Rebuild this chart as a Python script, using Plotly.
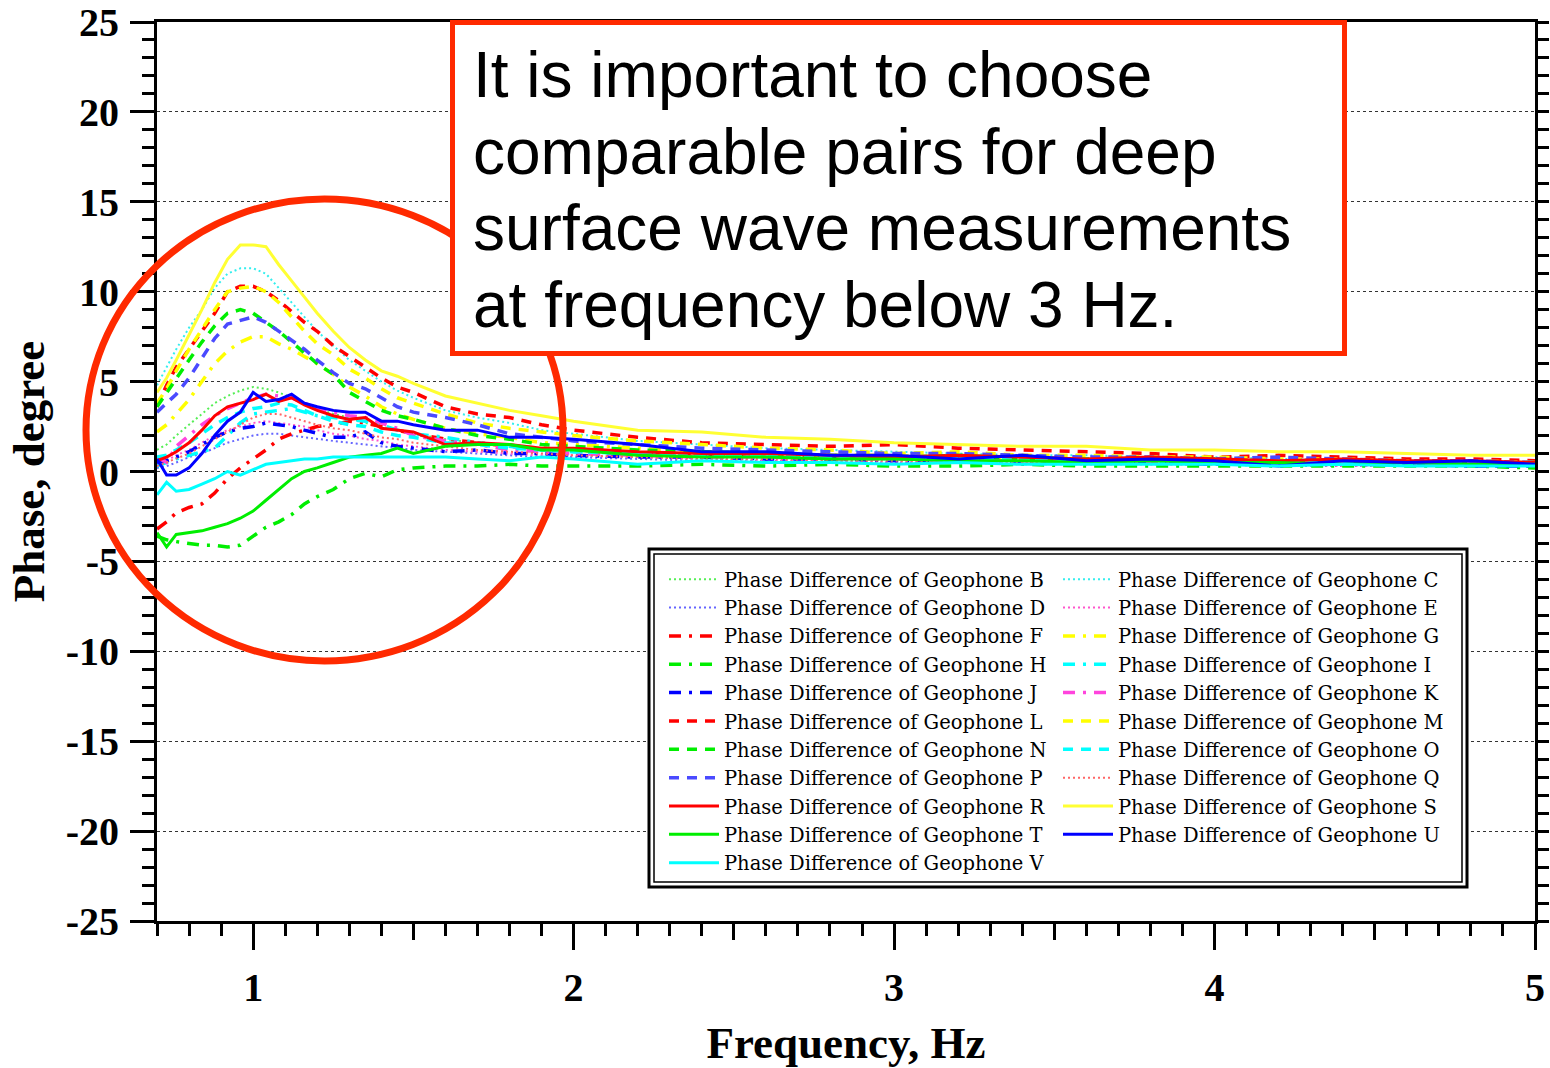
import plotly.graph_objects as go

freq = [0.70, 0.73, 0.76, 0.80, 0.84, 0.88, 0.92, 0.96, 1.00, 1.04, 1.08, 1.12, 1.16, 1.20, 1.25, 1.30, 1.35, 1.40, 1.45, 1.50,
        1.60, 1.70, 1.80, 1.90, 2.00, 2.20, 2.40, 2.60, 2.80, 3.00, 3.20, 3.40, 3.60, 3.80, 4.00, 4.20, 4.40, 4.60, 4.80, 5.00]

phase_B = [1.2, 1.5, 2.0, 2.6, 3.2, 3.8, 4.2, 4.5, 4.7, 4.6, 4.4, 4.1, 3.8, 3.5, 3.2, 3.0, 2.7, 2.5, 2.3, 2.1,
           1.8, 1.6, 1.4, 1.3, 1.2, 1.0, 0.9, 0.8, 0.8, 0.7, 0.7, 0.6, 0.6, 0.6, 0.5, 0.5, 0.5, 0.5, 0.4, 0.4]
phase_C = [4.8, 5.8, 6.8, 8.0, 9.0, 10.2, 11.0, 11.3, 11.3, 11.0, 10.2, 9.4, 8.6, 7.8, 7.0, 6.2, 5.6, 5.0, 4.5, 4.1,
           3.4, 3.0, 2.7, 2.3, 2.1, 1.7, 1.5, 1.3, 1.2, 1.1, 1.0, 0.9, 0.9, 0.8, 0.8, 0.7, 0.7, 0.6, 0.6, 0.5]
phase_D = [0.2, 0.3, 0.5, 0.8, 1.0, 1.3, 1.6, 1.8, 2.0, 2.1, 2.1, 2.0, 1.9, 1.8, 1.7, 1.6, 1.5, 1.4, 1.3, 1.2,
           1.1, 1.0, 0.9, 0.8, 0.8, 0.7, 0.6, 0.6, 0.5, 0.5, 0.5, 0.4, 0.4, 0.4, 0.4, 0.3, 0.3, 0.3, 0.3, 0.3]
phase_E = [0.5, 0.6, 0.9, 1.2, 1.6, 2.0, 2.3, 2.5, 2.7, 2.8, 2.7, 2.6, 2.5, 2.3, 2.1, 2.0, 1.8, 1.7, 1.5, 1.4,
           1.2, 1.1, 1.0, 0.9, 0.9, 0.8, 0.7, 0.6, 0.6, 0.5, 0.5, 0.5, 0.4, 0.4, 0.4, 0.4, 0.3, 0.3, 0.3, 0.3]
phase_F = [-3.2, -2.8, -2.3, -2.0, -1.8, -1.2, -0.4, 0.2, 0.7, 1.2, 1.8, 2.1, 2.3, 2.5, 2.6, 2.8, 2.7, 2.5, 2.3, 2.1,
           1.8, 1.6, 1.4, 1.3, 1.2, 1.0, 0.9, 0.9, 0.8, 0.8, 0.7, 0.7, 0.6, 0.6, 0.6, 0.5, 0.5, 0.5, 0.4, 0.4]
phase_G = [2.2, 2.6, 3.2, 4.0, 5.0, 6.0, 6.7, 7.2, 7.5, 7.5, 7.1, 6.8, 6.4, 6.0, 5.4, 4.7, 4.2, 3.6, 3.2, 2.9,
           2.4, 2.1, 1.9, 1.6, 1.5, 1.3, 1.1, 1.0, 0.9, 0.9, 0.8, 0.8, 0.7, 0.7, 0.6, 0.6, 0.6, 0.5, 0.5, 0.5]
phase_H = [-3.6, -3.8, -3.9, -4.0, -4.1, -4.1, -4.2, -4.1, -3.6, -3.1, -2.8, -2.4, -1.8, -1.4, -1.0, -0.4, -0.1, -0.3, 0.1, 0.2,
           0.3, 0.3, 0.4, 0.3, 0.3, 0.3, 0.4, 0.3, 0.4, 0.3, 0.3, 0.4, 0.3, 0.3, 0.3, 0.3, 0.3, 0.3, 0.3, 0.2]
phase_I = [0.3, 0.5, 0.7, 0.9, 1.1, 1.3, 2.0, 2.7, 3.2, 3.3, 3.4, 3.5, 3.3, 3.1, 3.0, 2.9, 2.8, 2.6, 2.3, 2.1,
           1.9, 1.6, 1.4, 1.2, 1.1, 1.0, 0.9, 0.8, 0.8, 0.7, 0.7, 0.6, 0.6, 0.5, 0.5, 0.5, 0.5, 0.4, 0.4, 0.4]
phase_J = [0.5, 0.6, 0.8, 1.1, 1.5, 1.9, 2.2, 2.4, 2.5, 2.7, 2.6, 2.5, 2.3, 2.1, 1.9, 1.9, 2.2, 1.6, 1.4, 1.3,
           1.1, 1.2, 1.0, 1.0, 0.9, 0.8, 0.8, 0.7, 0.7, 0.6, 0.6, 0.5, 0.5, 0.5, 0.4, 0.4, 0.4, 0.4, 0.3, 0.3]
phase_K = [0.8, 0.5, 1.4, 2.0, 2.6, 3.1, 3.5, 3.8, 4.1, 4.3, 4.2, 4.1, 3.8, 3.5, 3.3, 3.1, 3.0, 2.7, 2.4, 2.0,
           1.7, 1.5, 1.2, 1.1, 1.0, 0.9, 0.8, 0.8, 0.7, 0.7, 0.6, 0.6, 0.6, 0.5, 0.5, 0.5, 0.5, 0.5, 0.4, 0.4]
phase_L = [3.6, 4.8, 5.8, 6.8, 7.8, 8.8, 10.0, 10.3, 10.3, 10.0, 9.5, 8.9, 8.3, 7.8, 7.0, 6.4, 5.8, 5.2, 4.7, 4.4,
           3.6, 3.2, 3.0, 2.6, 2.3, 1.9, 1.6, 1.5, 1.4, 1.5, 1.3, 1.2, 1.1, 1.0, 0.8, 0.9, 0.8, 0.7, 0.7, 0.6]
phase_M = [3.8, 4.6, 5.6, 6.8, 7.9, 9.0, 10.0, 10.2, 10.3, 10.0, 9.4, 8.6, 7.8, 7.1, 6.5, 5.7, 5.2, 4.6, 4.1, 3.8,
           3.2, 2.7, 2.4, 2.2, 2.0, 1.7, 1.5, 1.3, 1.2, 1.0, 1.1, 0.9, 0.9, 0.8, 0.8, 0.7, 0.7, 0.6, 0.6, 0.5]
phase_N = [3.6, 4.4, 5.2, 6.2, 7.2, 8.1, 8.8, 9.0, 8.8, 8.3, 7.8, 7.2, 6.6, 6.0, 5.4, 4.4, 3.9, 3.4, 3.1, 2.9,
           2.4, 2.0, 1.8, 1.5, 1.4, 1.2, 1.1, 1.0, 0.9, 0.8, 0.9, 0.7, 0.7, 0.6, 0.7, 0.5, 0.6, 0.5, 0.5, 0.4]
phase_O = [0.8, 0.9, 1.2, 1.6, 2.1, 2.6, 3.0, 3.3, 3.5, 3.6, 3.8, 3.7, 3.4, 3.1, 2.8, 2.6, 2.5, 2.2, 2.0, 1.9,
           1.6, 1.5, 1.3, 1.2, 1.1, 1.0, 0.9, 0.9, 0.8, 0.8, 0.7, 0.7, 0.6, 0.7, 0.6, 0.6, 0.5, 0.5, 0.5, 0.5]
phase_P = [3.3, 3.8, 4.3, 5.2, 6.3, 7.4, 8.2, 8.4, 8.6, 8.3, 7.8, 7.3, 6.8, 6.2, 5.5, 4.9, 4.6, 4.1, 3.6, 3.3,
           3.0, 2.6, 2.1, 1.9, 1.7, 1.5, 1.3, 1.2, 1.1, 1.0, 1.0, 0.9, 0.8, 0.8, 0.7, 0.8, 0.7, 0.6, 0.6, 0.5]
phase_Q = [0.3, 0.5, 0.7, 1.0, 1.4, 1.8, 2.2, 2.6, 3.0, 3.2, 3.2, 3.0, 2.8, 2.6, 2.4, 2.3, 2.1, 1.9, 1.8, 1.6,
           1.4, 1.2, 1.1, 1.0, 0.9, 0.8, 0.7, 0.7, 0.6, 0.6, 0.5, 0.5, 0.5, 0.4, 0.4, 0.4, 0.4, 0.3, 0.3, 0.3]
phase_R = [0.6, 0.8, 1.1, 1.6, 2.3, 3.1, 3.6, 3.8, 4.0, 4.3, 3.9, 4.1, 3.7, 3.4, 3.1, 2.9, 3.0, 2.4, 2.3, 2.2,
           1.5, 1.6, 1.5, 1.3, 1.3, 1.1, 1.0, 1.0, 0.9, 0.8, 0.9, 0.8, 0.7, 0.8, 0.7, 0.6, 0.7, 0.6, 0.6, 0.5]
phase_S = [4.4, 5.2, 6.2, 7.6, 9.0, 10.5, 11.8, 12.6, 12.6, 12.5, 11.5, 10.6, 9.7, 8.8, 7.8, 6.9, 6.2, 5.6, 5.3, 4.9,
           4.2, 3.8, 3.4, 3.1, 2.8, 2.3, 2.2, 1.9, 1.8, 1.6, 1.5, 1.4, 1.4, 1.2, 1.2, 1.1, 1.1, 1.0, 0.9, 0.9]
phase_T = [-3.4, -4.2, -3.5, -3.4, -3.3, -3.1, -2.9, -2.6, -2.2, -1.6, -1.0, -0.4, 0.0, 0.2, 0.5, 0.8, 0.9, 1.0, 1.3, 1.0,
           1.4, 1.5, 1.5, 1.2, 1.2, 0.9, 0.8, 0.8, 0.7, 0.7, 0.6, 0.6, 0.5, 0.6, 0.5, 0.5, 0.4, 0.5, 0.4, 0.4]
phase_U = [0.7, -0.2, -0.2, 0.2, 1.0, 2.0, 2.8, 3.3, 4.4, 3.9, 4.0, 4.3, 3.8, 3.6, 3.4, 3.3, 3.3, 2.8, 2.8, 2.6,
           2.3, 2.3, 1.9, 1.9, 1.8, 1.5, 1.1, 1.1, 0.9, 0.9, 0.7, 0.9, 0.6, 0.7, 0.6, 0.3, 0.6, 0.5, 0.6, 0.4]
phase_V = [-1.3, -0.6, -1.1, -1.0, -0.7, -0.4, 0.0, -0.2, 0.1, 0.4, 0.5, 0.6, 0.7, 0.7, 0.8, 0.8, 0.8, 0.8, 0.8, 0.8,
           0.8, 0.7, 0.6, 0.8, 0.7, 0.4, 0.6, 0.5, 0.5, 0.4, 0.5, 0.4, 0.4, 0.4, 0.4, 0.3, 0.4, 0.3, 0.3, 0.3]

x_major_ticks = [1, 2, 3, 4, 5]
x_mid_ticks = [1.5, 2.5, 3.5, 4.5]
y_major_ticks = [-25, -20, -15, -10, -5, 0, 5, 10, 15, 20, 25]
y_tick_labels = ["-25", "-20", "-15", "-10", "-5", "0", "5", "10", "15", "20", "25"]

note_lines = ["It is important to choose", "comparable pairs for deep",
              "surface wave measurements", "at frequency below 3 Hz."]

DOT = "2px,3px"
DASH = "10px,8px"
DASHDOT = "12px,8px,3px,8px"

series = [
    ("B", phase_B, "#55ee55", DOT, 2, "legend"),
    ("C", phase_C, "#33eeee", DOT, 2, "legend2"),
    ("D", phase_D, "#6666ff", DOT, 2, "legend"),
    ("E", phase_E, "#ff55cc", DOT, 2, "legend2"),
    ("F", phase_F, "#ff0000", DASHDOT, 3.5, "legend"),
    ("G", phase_G, "#ffff00", DASHDOT, 3.5, "legend2"),
    ("H", phase_H, "#00ee00", DASHDOT, 3.5, "legend"),
    ("I", phase_I, "#00ffff", DASHDOT, 3.5, "legend2"),
    ("J", phase_J, "#0000ff", DASHDOT, 3.5, "legend"),
    ("K", phase_K, "#ff44dd", DASHDOT, 3.5, "legend2"),
    ("L", phase_L, "#ff0000", DASH, 3.5, "legend"),
    ("M", phase_M, "#ffff00", DASH, 3.5, "legend2"),
    ("N", phase_N, "#00ee00", DASH, 3.5, "legend"),
    ("O", phase_O, "#00ffff", DASH, 3.5, "legend2"),
    ("P", phase_P, "#4a4aff", DASH, 3.5, "legend"),
    ("Q", phase_Q, "#ff6666", DOT, 2, "legend2"),
    ("R", phase_R, "#ff0000", "solid", 3, "legend"),
    ("S", phase_S, "#ffff33", "solid", 3, "legend2"),
    ("T", phase_T, "#00ee00", "solid", 3, "legend"),
    ("U", phase_U, "#0000ff", "solid", 3, "legend2"),
    ("V", phase_V, "#00ffff", "solid", 3, "legend"),
]

fig = go.Figure()
for name, vals, color, dash, w, leg in series:
    fig.add_trace(go.Scatter(
        x=freq, y=vals, mode="lines", name="Phase Difference of Geophone " + name,
        line=dict(color=color, dash=dash, width=w), legend=leg,
    ))

# helper overlay axes for right-side ticks and half-Hz ticks
fig.add_trace(go.Scatter(x=[], y=[], xaxis="x2", yaxis="y2", showlegend=False))

serif = "Liberation Serif"
legend_font = "DejaVu Serif"
red = "#ff2a00"

fig.update_layout(
    width=1550, height=1068,
    margin=dict(l=157, r=15, t=22, b=147),
    plot_bgcolor="white", paper_bgcolor="white",
    xaxis=dict(
        range=[0.7, 5.0], tickvals=x_major_ticks, ticktext=[str(v) for v in x_major_ticks],
        ticks="outside", ticklen=26, tickwidth=2.5, tickcolor="black",
        minor=dict(tick0=0.7, dtick=0.1, ticks="outside", ticklen=12, tickwidth=2.5, tickcolor="black", showgrid=False),
        showline=True, linewidth=3, linecolor="black", mirror=True,
        showgrid=False, zeroline=False, automargin=False,
        tickfont=dict(family=serif, size=40, color="black", weight="bold"),
        ticklabelstandoff=3,
        title=dict(text="Frequency, Hz", font=dict(family=serif, size=45, color="black", weight="bold"), standoff=27),
    ),
    yaxis=dict(
        range=[-25, 25], tickvals=y_major_ticks, ticktext=y_tick_labels,
        ticks="outside", ticklen=24, tickwidth=2.5, tickcolor="black",
        minor=dict(dtick=1, ticks="outside", ticklen=12, tickwidth=2.5, tickcolor="black", showgrid=False),
        showline=True, linewidth=3, linecolor="black", mirror=True,
        showgrid=True, gridcolor="#333333", griddash="dot", gridwidth=1,
        zeroline=False, automargin=False,
        tickfont=dict(family=serif, size=40, color="black", weight="bold"),
        ticklabelstandoff=3,
        title=dict(text="Phase, degree", font=dict(family=serif, size=45, color="black", weight="bold"), standoff=7),
    ),
    xaxis2=dict(
        overlaying="x", anchor="y", side="bottom", range=[0.7, 5.0], automargin=False,
        tickvals=x_mid_ticks, ticks="outside", ticklen=18, tickwidth=2.5, tickcolor="black",
        showticklabels=False, showgrid=False, zeroline=False, showline=False,
    ),
    yaxis2=dict(
        overlaying="y", anchor="x", side="right", range=[-25, 25], dtick=1, tick0=0, automargin=False,
        ticks="outside", ticklen=13, tickwidth=2.5, tickcolor="black",
        showticklabels=False, showgrid=False, zeroline=False, showline=False,
    ),
    legend=dict(
        x=(664 - 157) / 1378, y=(921 - 560) / 899, xanchor="left", yanchor="top",
        bgcolor="rgba(0,0,0,0)", borderwidth=0, traceorder="normal",
        font=dict(family=legend_font, size=19.5, color="black"),
        itemwidth=50, tracegroupgap=0,
    ),
    legend2=dict(
        x=(1058 - 157) / 1378, y=(921 - 560) / 899, xanchor="left", yanchor="top",
        bgcolor="rgba(0,0,0,0)", borderwidth=0, traceorder="normal",
        font=dict(family=legend_font, size=19.5, color="black"),
        itemwidth=50, tracegroupgap=0,
    ),
    showlegend=True,
)

def px_x(p):
    return (p - 157) / 1378

def px_y(p):
    return (921 - p) / 899

shapes = [
    # legend double frame (white fill hides grid lines behind the legend)
    dict(type="rect", xref="paper", yref="paper", x0=px_x(649), x1=px_x(1467), y0=px_y(887), y1=px_y(549),
         line=dict(color="black", width=3), fillcolor="white", layer="above"),
    dict(type="rect", xref="paper", yref="paper", x0=px_x(654), x1=px_x(1462), y0=px_y(882), y1=px_y(554),
         line=dict(color="black", width=1.5), layer="above"),
    # highlight circle
    dict(type="circle", xref="paper", yref="paper", x0=px_x(86), x1=px_x(563), y0=px_y(661), y1=px_y(199),
         line=dict(color=red, width=7), layer="above"),
    # note box
    dict(type="rect", xref="paper", yref="paper", x0=px_x(452.5), x1=px_x(1344.5), y0=px_y(353.5), y1=px_y(22.5),
         line=dict(color=red, width=5), fillcolor="white", layer="above"),
]
fig.update_layout(shapes=shapes)

line_centers = [75, 152, 228, 305]
for txt, cy in zip(note_lines, line_centers):
    fig.add_annotation(
        text=txt, xref="paper", yref="paper", x=px_x(471), y=px_y(cy),
        xanchor="left", yanchor="middle", showarrow=False,
        font=dict(family="Liberation Sans", size=64, color="black"),
    )

fig.write_html("out.html")
